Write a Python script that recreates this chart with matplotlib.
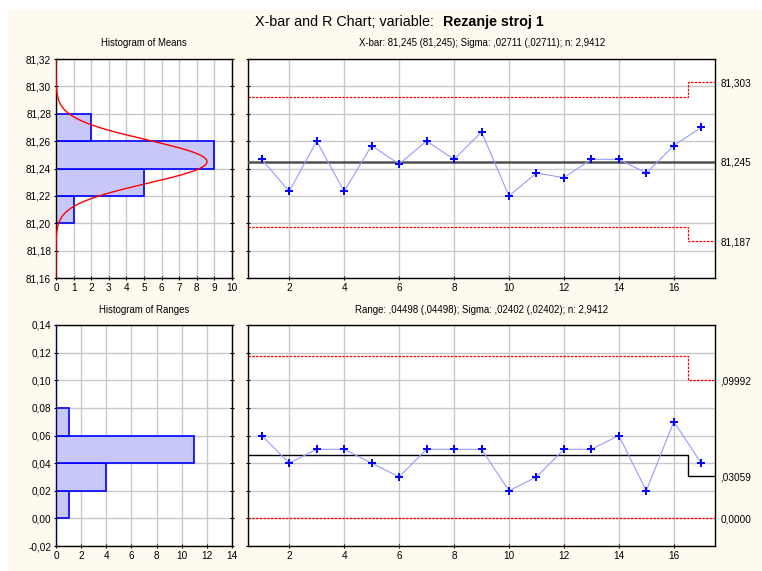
import numpy as np
import matplotlib
matplotlib.use('Agg')
import matplotlib.pyplot as plt
from matplotlib.patches import Rectangle

plt.rcParams['font.family'] = ['Liberation Sans', 'DejaVu Sans']

# --- data ---
samples = list(range(1, 18))
means = [81.2467, 81.2233, 81.26, 81.2233, 81.2567, 81.2433, 81.26, 81.2467, 81.2667,
         81.22, 81.2367, 81.2333, 81.2467, 81.2467, 81.2367, 81.2567, 81.27]
ranges = [0.06, 0.04, 0.05, 0.05, 0.04, 0.03, 0.05, 0.05, 0.05,
          0.02, 0.03, 0.05, 0.05, 0.06, 0.02, 0.07, 0.04]

mean_bins = [81.20, 81.22, 81.24, 81.26]
mean_counts = [1, 5, 9, 2]
range_bins = [0.00, 0.02, 0.04, 0.06]
range_counts = [1, 4, 11, 1]

xbar_center = 81.245
xbar_sigma = 0.02711
n_avg = 2.9412
xbar_ucl = [81.292, 81.303]
xbar_lcl = [81.1975, 81.187]
r_ucl = [0.1178, 0.09992]
r_center = [0.0458, 0.03059]
r_lcl = [0.0, 0.0]
step_at = 16.5

xbar_labels = ['81,303', '81,245', '81,187']
r_labels = [',09992', ',03059', '0,0000']

BG = '#fffaf0'
GRID = '#c8c8c8'
BLUE = '#0000ff'
FS = 7.2
FS_SUB = 6.9


def comma(v, nd=2):
    return f"{v:.{nd}f}".replace('.', ',')


def style_axes(ax):
    ax.set_facecolor('white')
    ax.grid(True, color=GRID, linewidth=1.0)
    ax.set_axisbelow(True)
    for s in ax.spines.values():
        s.set_linewidth(1.0)
        s.set_color('black')
    ax.tick_params(direction='inout', length=3, width=0.8, labelsize=FS,
                   right=True, top=False, pad=2)


fig = plt.figure(figsize=(7.62, 5.71), dpi=100)
fig.patch.set_facecolor('white')
fig.add_artist(Rectangle((8 / 762, 0), 1, 1 - 10 / 571, transform=fig.transFigure,
                         facecolor=BG, edgecolor='none', zorder=-10))

W, H = 762, 571


def box(x0, y0, x1, y1):
    return [x0 / W, 1 - y1 / H, (x1 - x0) / W, (y1 - y0) / H]


ax_hm = fig.add_axes(box(56, 59, 232, 278))
ax_xb = fig.add_axes(box(248, 59, 715, 278))
ax_hr = fig.add_axes(box(56, 325, 232, 546))
ax_r = fig.add_axes(box(248, 325, 715, 546))

# ---- histogram of means ----
style_axes(ax_hm)
ax_hm.barh(mean_bins, mean_counts, height=0.02, align='edge', left=0,
           color='#c8c8f8', edgecolor=BLUE, linewidth=1.2, zorder=2)
yy = np.linspace(81.16, 81.32, 300)
sig_m = xbar_sigma / np.sqrt(n_avg)
curve = len(means) * 0.02 * np.exp(-0.5 * ((yy - xbar_center) / sig_m) ** 2) / (sig_m * np.sqrt(2 * np.pi))
ax_hm.plot(curve, yy, color='#ff0000', linewidth=1.0, zorder=3)
ax_hm.set_xlim(0, 10)
ax_hm.set_ylim(81.16, 81.32)
ax_hm.set_xticks(range(0, 11))
yt = np.round(np.arange(81.16, 81.3201, 0.02), 2)
ax_hm.set_yticks(yt)
ax_hm.set_yticklabels([comma(v) for v in yt])
ax_hm.tick_params(axis='y', labelright=False)

# ---- X-bar chart ----
style_axes(ax_xb)
ax_xb.set_xlim(0.5, 17.5)
ax_xb.set_ylim(81.16, 81.32)
ax_xb.set_xticks(range(2, 17, 2))
ax_xb.set_yticks(yt)
ax_xb.set_yticklabels([])
xl = [0.5, step_at, step_at, 17.5]
ax_xb.plot(xl, [xbar_ucl[0], xbar_ucl[0], xbar_ucl[1], xbar_ucl[1]],
           color='red', linestyle=(0, (2, 1)), linewidth=0.9, zorder=3)
ax_xb.plot(xl, [xbar_lcl[0], xbar_lcl[0], xbar_lcl[1], xbar_lcl[1]],
           color='red', linestyle=(0, (2, 1)), linewidth=0.9, zorder=3)
ax_xb.axhline(xbar_center, color='#505050', linewidth=1.8, zorder=3)
ax_xb.plot(samples, means, color='#9a9aff', linewidth=0.8, zorder=4)
ax_xb.plot(samples, means, linestyle='none', marker='+', markersize=6,
           markeredgewidth=1.4, color=BLUE, zorder=5)
tw = ax_xb.twinx()
tw.set_ylim(81.16, 81.32)
tw.set_yticks([xbar_ucl[1], xbar_center, xbar_lcl[1]])
tw.set_yticklabels(xbar_labels)
tw.tick_params(length=0, labelsize=FS, pad=4)
for s in tw.spines.values():
    s.set_visible(False)

# ---- histogram of ranges ----
style_axes(ax_hr)
ax_hr.barh(range_bins, range_counts, height=0.02, align='edge', left=0,
           color='#c8c8f8', edgecolor=BLUE, linewidth=1.2, zorder=2)
ax_hr.axvline(0, color='#000080', linewidth=1.4, zorder=3)
ax_hr.set_xlim(0, 14)
ax_hr.set_ylim(-0.02, 0.14)
ax_hr.set_xticks(range(0, 15, 2))
yr = np.round(np.arange(-0.02, 0.1401, 0.02), 2)
ax_hr.set_yticks(yr)
ax_hr.set_yticklabels([comma(v + 0.0) for v in yr])
ax_hr.tick_params(axis='y', labelright=False)

# ---- R chart ----
style_axes(ax_r)
ax_r.set_xlim(0.5, 17.5)
ax_r.set_ylim(-0.02, 0.14)
ax_r.set_xticks(range(2, 17, 2))
ax_r.set_yticks(yr)
ax_r.set_yticklabels([])
ax_r.plot(xl, [r_ucl[0], r_ucl[0], r_ucl[1], r_ucl[1]],
          color='red', linestyle=(0, (2, 1)), linewidth=0.9, zorder=3)
ax_r.plot(xl, [r_lcl[0], r_lcl[0], r_lcl[1], r_lcl[1]],
          color='red', linestyle=(0, (2, 1)), linewidth=0.9, zorder=3)
ax_r.plot(xl, [r_center[0], r_center[0], r_center[1], r_center[1]],
          color='black', linewidth=1.0, zorder=3)
ax_r.plot(samples, ranges, color='#9a9aff', linewidth=0.8, zorder=4)
ax_r.plot(samples, ranges, linestyle='none', marker='+', markersize=6,
          markeredgewidth=1.4, color=BLUE, zorder=5)
tw2 = ax_r.twinx()
tw2.set_ylim(-0.02, 0.14)
tw2.set_yticks([r_ucl[1], r_center[1], r_lcl[1]])
tw2.set_yticklabels(r_labels)
tw2.tick_params(length=0, labelsize=FS, pad=4)
for s in tw2.spines.values():
    s.set_visible(False)

# ---- titles ----
fig.text(438 / W, 1 - 22 / H, 'X-bar and R Chart; variable: ', ha='right', va='center', fontsize=10.3)
fig.text(443 / W, 1 - 22 / H, 'Rezanje stroj 1', ha='left', va='center', fontsize=10.3, fontweight='bold')
fig.text(144 / W, 1 - 43 / H, 'Histogram of Means', ha='center', va='center', fontsize=FS_SUB)
fig.text(482 / W, 1 - 43 / H, 'X-bar: 81,245 (81,245); Sigma: ,02711 (,02711); n: 2,9412',
         ha='center', va='center', fontsize=FS_SUB)
fig.text(144 / W, 1 - 310 / H, 'Histogram of Ranges', ha='center', va='center', fontsize=FS_SUB)
fig.text(482 / W, 1 - 310 / H, 'Range: ,04498 (,04498); Sigma: ,02402 (,02402); n: 2,9412',
         ha='center', va='center', fontsize=FS_SUB)

fig.savefig('out.png', dpi=100, facecolor=fig.get_facecolor())
